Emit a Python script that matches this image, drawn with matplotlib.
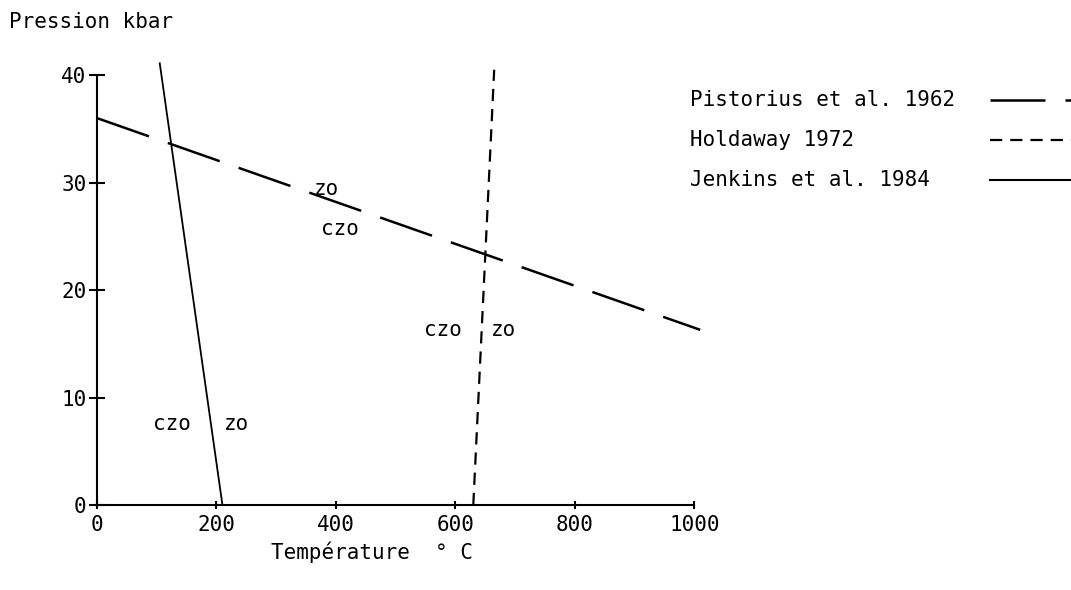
import matplotlib.pyplot as plt
from matplotlib.lines import Line2D

# data (T in degC, P in kbar)
pistorius_t = [0, 1010]
pistorius_p = [36.0, 16.3]
holdaway_t = [630, 665]
holdaway_p = [0, 40.5]
jenkins_t = [105, 210]
jenkins_p = [41.1, 0]

# field labels
field_text = ['zo', 'czo', 'czo', 'zo', 'czo', 'zo']
field_t = [385, 407, 580, 680, 126, 233]
field_p = [29.4, 25.7, 16.3, 16.3, 7.5, 7.5]

legend_labels = ['Pistorius et al. 1962', 'Holdaway 1972', 'Jenkins et al. 1984']

plt.rcParams['font.family'] = 'DejaVu Sans Mono'
plt.rcParams['font.size'] = 15

fig = plt.figure(figsize=(10.71, 5.90), dpi=100)
ax = fig.add_axes([0.0906, 0.144, 0.566, 0.756])

# dash patterns are in units of linewidth
long_dash = (0, (22, 8))
short_dash = (0, (5.5, 3.6))

ax.plot(pistorius_t, pistorius_p, color='black', lw=1.8, linestyle=long_dash)
ax.plot(holdaway_t, holdaway_p, color='black', lw=1.6, linestyle=short_dash)
ax.plot(jenkins_t, jenkins_p, color='black', lw=1.3)

for s, t, p in zip(field_text, field_t, field_p):
    ax.text(t, p, s, ha='center', va='center')

ax.set_xlim(0, 1015)
ax.set_ylim(0, 41.5)
ax.set_xticks([0, 200, 400, 600, 800, 1000])
ax.set_yticks([0, 10, 20, 30, 40])
for side in ['top', 'right']:
    ax.spines[side].set_visible(False)
ax.spines['left'].set_bounds(0, 40)
ax.spines['bottom'].set_bounds(0, 1000)
ax.spines['left'].set_linewidth(1.5)
ax.spines['bottom'].set_linewidth(1.5)
ax.tick_params(axis='y', direction='inout', length=11, width=1.5, pad=2)
ax.tick_params(axis='x', direction='inout', length=6, width=1.5, pad=4)

fig.text(0.008, 0.962, 'Pression kbar', ha='left', va='center')
fig.text(0.347, 0.064, 'Température  ° C', ha='center', va='center')

# legend drawn by hand: text on the left, line sample on the right
styles = [long_dash, short_dash, '-']
widths = [1.8, 1.6, 1.5]
ys = [0.83, 0.763, 0.695]
for lab, ls, lw, y in zip(legend_labels, styles, widths, ys):
    fig.text(0.644, y, lab, ha='left', va='center')
    fig.add_artist(Line2D([0.924, 1.02], [y, y], transform=fig.transFigure,
                          color='black', lw=lw, linestyle=ls))

fig.savefig('out.png', dpi=100)
